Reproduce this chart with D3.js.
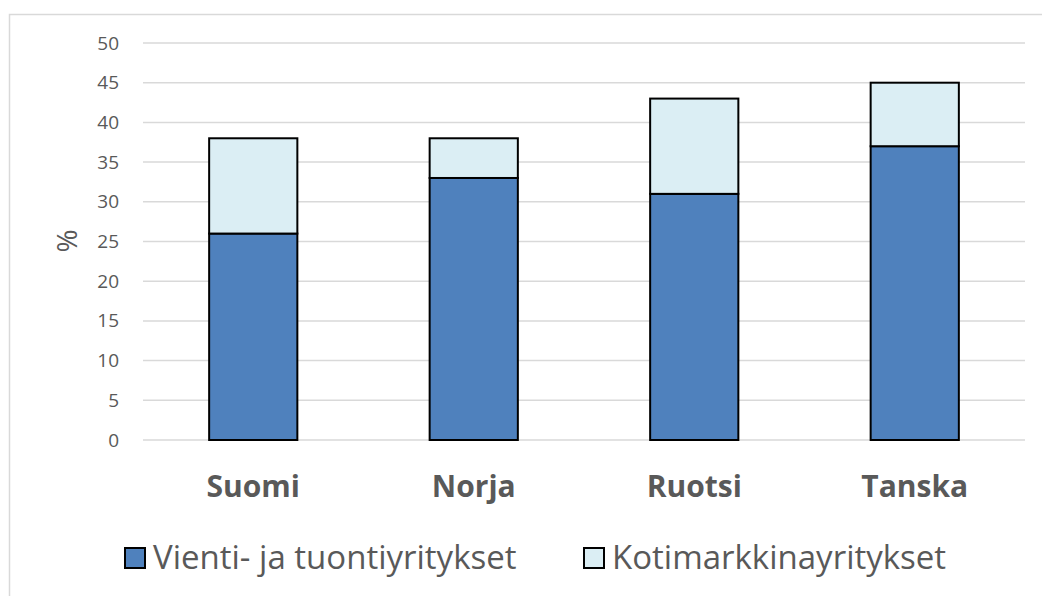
<!DOCTYPE html>
<html lang="fi">
<head>
<meta charset="utf-8">
<title>Vienti- ja kotimarkkinayritykset</title>
<script src="https://cdn.jsdelivr.net/npm/d3@7"></script>
<style>
  body { margin: 0; background: #fff; font-family: "Open Sans", sans-serif; }
  .grid line { stroke: #d9d9d9; stroke-width: 1.5; }
  .axis text { fill: #595959; }
</style>
</head>
<body>
<svg id="chart"></svg>
<script>
// data
var maat = ["Suomi", "Norja", "Ruotsi", "Tanska"];
var vienti = [26, 33, 31, 37];
var kotimarkkina = [12, 5, 12, 8];
var sarjat = ["Vienti- ja tuontiyritykset", "Kotimarkkinayritykset"];
var varit = ["#4f81bd", "#dbeef4"];
var yTicks = [0, 5, 10, 15, 20, 25, 30, 35, 40, 45, 50];

var width = 1042, height = 596;
var margin = {top: 43, right: 17, bottom: 156, left: 143};
var w = width - margin.left - margin.right;
var h = height - margin.top - margin.bottom;

var svg = d3.select("#chart").attr("width", width).attr("height", height);

// chart border (only top and left are inside the picture)
svg.append("path")
  .attr("d", "M9.5,600 V14.5 H1050")
  .attr("fill", "none")
  .attr("stroke", "#d9d9d9")
  .attr("stroke-width", 1.5);

var g = svg.append("g").attr("transform", "translate(" + margin.left + "," + margin.top + ")");

var x = d3.scaleBand().domain(maat).range([0, w]).paddingInner(0.6).paddingOuter(0.3);
var y = d3.scaleLinear().domain([0, 50]).range([h, 0]);

// grid
g.append("g").attr("class", "grid")
  .selectAll("line").data(yTicks).enter().append("line")
  .attr("x1", 0).attr("x2", w)
  .attr("y1", function(d) { return y(d); })
  .attr("y2", function(d) { return y(d); });

// y axis
var yAxis = g.append("g").attr("class", "axis")
  .call(d3.axisLeft(y).tickValues(yTicks).tickSize(0).tickPadding(24));
yAxis.select(".domain").remove();
yAxis.selectAll("text").style("font-size", "19px").style("font-family", "Open Sans");

// y title
svg.append("text")
  .attr("transform", "translate(77,241) rotate(-90)")
  .attr("text-anchor", "middle")
  .attr("fill", "#595959")
  .style("font-size", "28px")
  .text("%");

// stacked bars
var rows = maat.map(function(m, i) {
  var r = {maa: m};
  r[sarjat[0]] = vienti[i];
  r[sarjat[1]] = kotimarkkina[i];
  return r;
});
var stacked = d3.stack().keys(sarjat)(rows);

g.selectAll(".sarja").data(stacked).enter().append("g")
  .attr("class", "sarja")
  .attr("fill", function(d, i) { return varit[i]; })
  .selectAll("rect").data(function(d) { return d; }).enter().append("rect")
  .attr("x", function(d) { return x(d.data.maa); })
  .attr("y", function(d) { return y(d[1]); })
  .attr("width", x.bandwidth())
  .attr("height", function(d) { return y(d[0]) - y(d[1]); })
  .attr("stroke", "#000")
  .attr("stroke-width", 2);

// x axis labels
var xAxis = g.append("g").attr("class", "axis")
  .attr("transform", "translate(0," + h + ")")
  .call(d3.axisBottom(x).tickSize(0).tickPadding(36));
xAxis.select(".domain").remove();
xAxis.selectAll("text")
  .style("font-size", "30px")
  .style("font-weight", "bold")
  .style("font-family", "Open Sans");

// legend
var legendX = [124, 583];
var legend = svg.selectAll(".legend").data(sarjat).enter().append("g")
  .attr("class", "legend")
  .attr("transform", function(d, i) { return "translate(" + legendX[i] + ",547)"; });
legend.append("rect")
  .attr("x", 1).attr("y", 1)
  .attr("width", 20).attr("height", 20)
  .attr("fill", function(d, i) { return varit[i]; })
  .attr("stroke", "#000").attr("stroke-width", 2);
legend.append("text")
  .attr("x", 29).attr("y", 22)
  .attr("fill", "#595959")
  .style("font-size", "33px")
  .text(function(d) { return d; });
</script>
</body>
</html>
